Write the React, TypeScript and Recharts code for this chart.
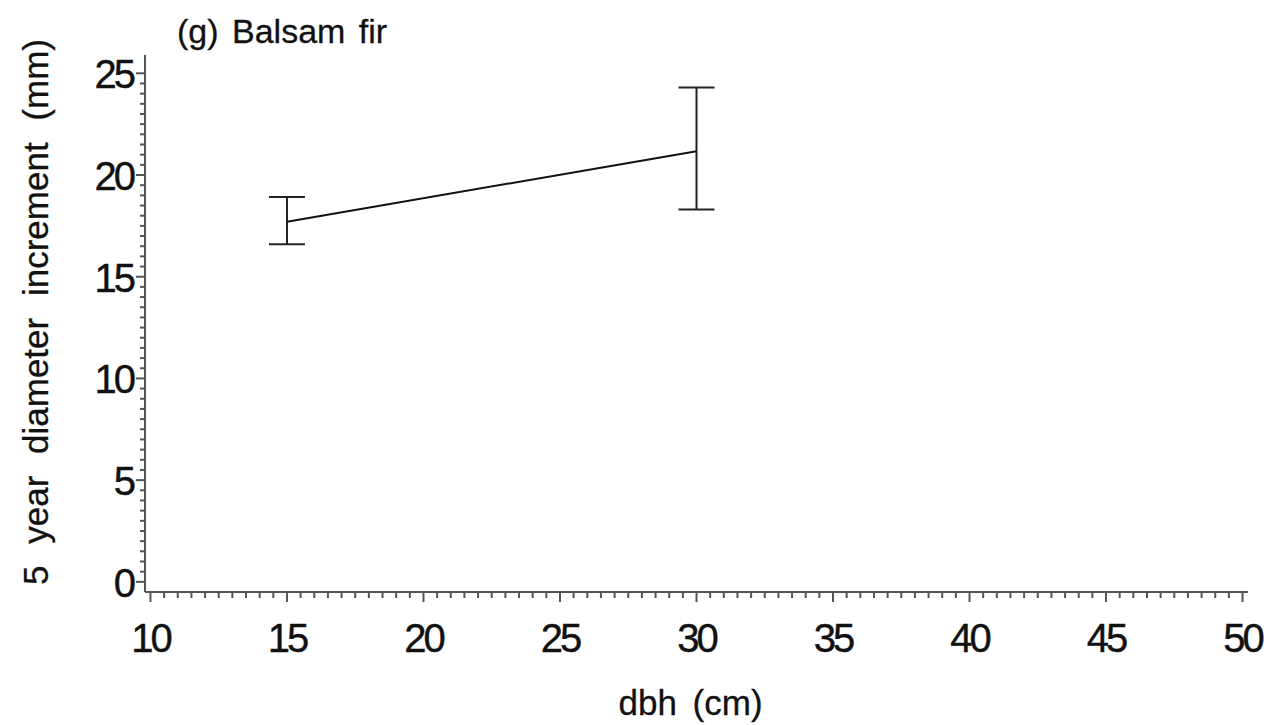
import { LineChart, Line, XAxis, YAxis, ErrorBar, Label } from 'recharts'

const dbh = [15, 30]
const increment = [17.7, 21.17]
const errLow = [1.1, 2.86]
const errHigh = [1.22, 3.13]

const xMajor = [10, 15, 20, 25, 30, 35, 40, 45, 50]
const yMajor = [0, 5, 10, 15, 20, 25]

const FONT = '"Liberation Sans", Arial, sans-serif'
const AXIS = '#555'
const INK = '#111'

// minor ticks every 0.5 between the labelled ones
const halfSteps = (lo: number, hi: number) => {
  const out: number[] = []
  for (let i = lo * 2; i <= hi * 2; i++) out.push(i / 2)
  return out
}

const data = dbh.map((d, i) => ({
  dbh: d,
  inc: increment[i],
  err: [errLow[i], errHigh[i]],
}))

const XTick = ({ x, y, payload }: any) => {
  const major = xMajor.includes(payload.value)
  return (
    <g>
      <line x1={x} x2={x} y1={y} y2={y + (major ? 10 : 6)} stroke={AXIS} strokeWidth={2} />
      {major && (
        <text x={x} y={y + 60} textAnchor="middle" fontSize={40} letterSpacing={-3} fill={INK} stroke={INK} strokeWidth={0.4} fontFamily={FONT}>
          {payload.value}
        </text>
      )}
    </g>
  )
}

const YTick = ({ x, y, payload }: any) => {
  const major = yMajor.includes(payload.value)
  return (
    <g>
      <line x1={x} x2={x - (major ? 9 : 5)} y1={y} y2={y} stroke={AXIS} strokeWidth={2} />
      {major && (
        <text x={x - 12} y={y + 15} textAnchor="end" fontSize={40} letterSpacing={-3} fill={INK} stroke={INK} strokeWidth={0.4} fontFamily={FONT}>
          {payload.value}
        </text>
      )}
    </g>
  )
}

export default function App() {
  return (
    <div style={{ position: 'absolute', left: 0, top: 0, background: '#fff' }}>
      <LineChart width={1268} height={725} data={data} margin={{ top: 55, right: 20, bottom: 0, left: 0 }}>
        <XAxis
          type="number"
          dataKey="dbh"
          domain={[9.8, 50.2]}
          ticks={halfSteps(10, 50)}
          interval={0}
          tick={<XTick />}
          tickLine={false}
          tickSize={0}
          tickMargin={0}
          height={133}
          axisLine={{ stroke: AXIS, strokeWidth: 2 }}
        >
          <Label
            content={({ viewBox }: any) => (
              <text
                x={viewBox.x + viewBox.width / 2 - 6}
                y={viewBox.y + 123}
                textAnchor="middle"
                fontSize={35}
                fill={INK}
                stroke={INK}
                strokeWidth={0.3}
                fontFamily={FONT}
                wordSpacing={6}
              >
                dbh (cm)
              </text>
            )}
          />
        </XAxis>
        <YAxis
          type="number"
          domain={[-0.5, 25.9]}
          ticks={halfSteps(0, 25)}
          interval={0}
          tick={<YTick />}
          tickLine={false}
          tickSize={0}
          tickMargin={0}
          width={145}
          axisLine={{ stroke: AXIS, strokeWidth: 2 }}
        >
          <Label
            content={() => (
              <text
                x={35}
                y={312}
                transform="rotate(-90 35 312)"
                textAnchor="middle"
                dominantBaseline="central"
                fontSize={35}
                fill={INK}
                stroke={INK}
                strokeWidth={0.3}
                fontFamily={FONT}
                wordSpacing={12}
              >
                5 year diameter increment (mm)
              </text>
            )}
          />
          <Label
            content={() => (
              <text x={177} y={43} fontSize={34} fill={INK} stroke={INK} strokeWidth={0.3} fontFamily={FONT} wordSpacing={4}>
                (g) Balsam fir
              </text>
            )}
          />
        </YAxis>
        <Line
          dataKey="inc"
          stroke={INK}
          strokeWidth={2}
          dot={false}
          isAnimationActive={false}
        >
          <ErrorBar dataKey="err" direction="y" width={18} stroke="#222" strokeWidth={2} />
        </Line>
      </LineChart>
    </div>
  )
}
